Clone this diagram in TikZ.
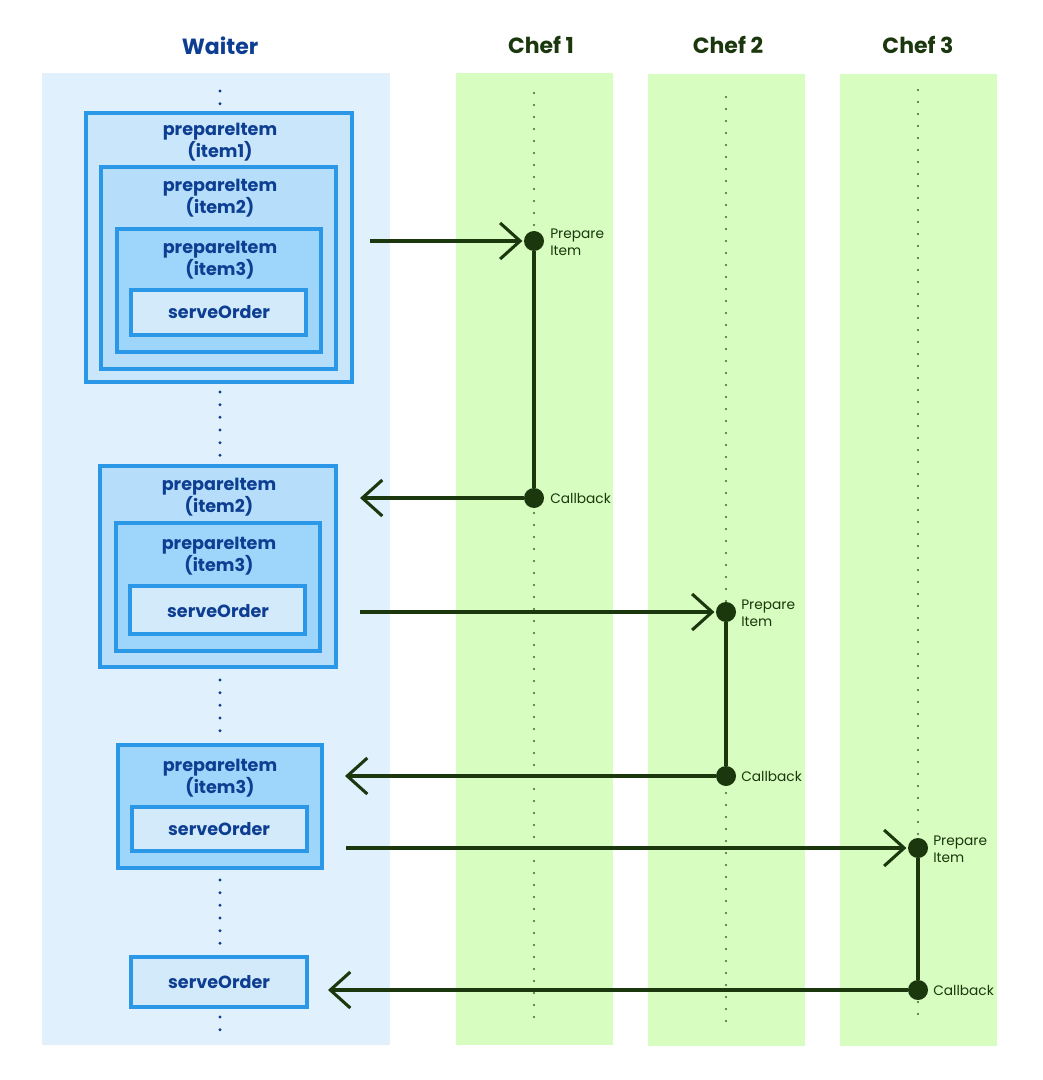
\documentclass[tikz,border=0pt]{standalone}
\usepackage{fontspec}
\setmainfont{Poppins}
\usepackage{tikz}
\usetikzlibrary{arrows.meta}

\definecolor{waiterbg}{HTML}{E0F0FC}
\definecolor{chefbg}{HTML}{D8FDC0}
\definecolor{boxline}{HTML}{2A98E6}
\definecolor{lvlone}{HTML}{C9E6FB}
\definecolor{lvltwo}{HTML}{B6DEFA}
\definecolor{lvlthree}{HTML}{9ED5FA}
\definecolor{servebg}{HTML}{D3EAFB}
\definecolor{waitertext}{HTML}{0D3E92}
\definecolor{cheftext}{HTML}{1B370D}

\begin{document}
\begin{tikzpicture}[
    x=0.75pt, y=-0.75pt,
    column/.style={draw=none, inner sep=0pt, minimum width=117.75pt, minimum height=729pt},
    title/.style={font=\bfseries\fontsize{16.5}{20}\selectfont},
    box/.style={draw=boxline, line width=2.3pt, inner sep=0pt},
    boxtext/.style={text=waitertext, font=\bfseries\fontsize{13.2}{16.5}\selectfont, align=center, inner sep=0pt},
    event/.style={circle, fill=cheftext, minimum size=15pt, inner sep=0pt},
    eventtext/.style={text=cheftext, font=\fontsize{10.3}{12.75}\selectfont, align=left, anchor=west, inner sep=0pt},
    waiterline/.style={draw=waitertext, line width=2.4pt, dash pattern=on 0pt off 9.5pt, line cap=round},
    chefline/.style={draw=cheftext!80, line width=1.7pt, dash pattern=on 0pt off 9pt, line cap=round},
    message/.style={draw=cheftext, line width=2.3pt, -{Straight Barb[length=15pt, width=27pt, line width=2.3pt]}},
]
    % columns
    \node[column, fill=waiterbg, minimum width=261pt] (waitercol) at (216,559) {};
    \node[column, fill=chefbg] (chefonecol) at (534.5,559) {};
    \node[column, fill=chefbg] (cheftwocol) at (726.5,560) {};
    \node[column, fill=chefbg] (chefthreecol) at (918.5,560) {};

    \node[title, text=waitertext] (waitertitle) at (220,46) {Waiter};
    \node[title, text=cheftext] (chefonetitle) at (541,45) {Chef 1};
    \node[title, text=cheftext] (cheftwotitle) at (728,45) {Chef 2};
    \node[title, text=cheftext] (chefthreetitle) at (918,45) {Chef 3};

    % waiter lifeline
    \coordinate (w0) at (220,91);
    \coordinate (w1) at (220,104);
    \coordinate (w2) at (220,392);
    \coordinate (w3) at (220,456);
    \coordinate (w4) at (220,680);
    \coordinate (w5) at (220,735);
    \coordinate (w6) at (220,880);
    \coordinate (w7) at (220,946);
    \coordinate (w8) at (220,1017);
    \coordinate (w9) at (220,1030);
    \draw[waiterline] (w0) -- (w1);
    \draw[waiterline] (w2) -- (w3);
    \draw[waiterline] (w4) -- (w5);
    \draw[waiterline] (w6) -- (w7);
    \draw[waiterline] (w8) -- (w9);

    % first call
    \node[box, fill=lvlone, minimum width=199.5pt, minimum height=201.75pt] (aone) at (219,247.5) {};
    \node[box, fill=lvltwo, minimum width=176.25pt, minimum height=151.5pt] (atwo) at (218.5,268) {};
    \node[box, fill=lvlthree, minimum width=153pt, minimum height=92.25pt] (athree) at (219,290.5) {};
    \node[box, fill=servebg, minimum width=131.25pt, minimum height=33.75pt] (aserve) at (218.5,312.5) {};
    \node[boxtext] (aonetext) at (220,142) {prepareItem\\(item1)};
    \node[boxtext] (atwotext) at (220,198) {prepareItem\\(item2)};
    \node[boxtext] (athreetext) at (220,260) {prepareItem\\(item3)};
    \node[boxtext] (aservetext) at (219,312) {serveOrder};

    % second call
    \node[box, fill=lvltwo, minimum width=177pt, minimum height=150.75pt] (btwo) at (218,566.5) {};
    \node[box, fill=lvlthree, minimum width=153pt, minimum height=96pt] (bthree) at (218,587) {};
    \node[box, fill=servebg, minimum width=131.25pt, minimum height=36pt] (bserve) at (217.5,610) {};
    \node[boxtext] (btwotext) at (219,497) {prepareItem\\(item2)};
    \node[boxtext] (bthreetext) at (219,556) {prepareItem\\(item3)};
    \node[boxtext] (bservetext) at (218,611) {serveOrder};

    % third call
    \node[box, fill=lvlthree, minimum width=153pt, minimum height=92.25pt] (cthree) at (220,806.5) {};
    \node[box, fill=servebg, minimum width=131.25pt, minimum height=33pt] (cserve) at (219.5,829) {};
    \node[boxtext] (cthreetext) at (220,778) {prepareItem\\(item3)};
    \node[boxtext] (cservetext) at (219,829) {serveOrder};

    % last
    \node[box, fill=servebg, minimum width=132pt, minimum height=37.5pt] (dserve) at (219,982) {};
    \node[boxtext] (dservetext) at (219,982) {serveOrder};

    % chef lifelines
    \coordinate (onetop) at (534,93);
    \coordinate (onebot) at (534,1020);
    \coordinate (twotop) at (726,97);
    \coordinate (twobot) at (726,1025);
    \coordinate (threetop) at (918,90);
    \coordinate (threebot) at (918,1015);
    \draw[chefline] (onetop) -- (onebot);
    \draw[chefline] (twotop) -- (twobot);
    \draw[chefline] (threetop) -- (threebot);

    \node[event] (prepone) at (534,241) {};
    \node[event] (backone) at (534,498) {};
    \node[event] (preptwo) at (726,612) {};
    \node[event] (backtwo) at (726,776) {};
    \node[event] (prepthree) at (918,848) {};
    \node[event] (backthree) at (918,990) {};
    \draw[cheftext, line width=2.6pt] (prepone) -- (backone);
    \draw[cheftext, line width=2.6pt] (preptwo) -- (backtwo);
    \draw[cheftext, line width=2.6pt] (prepthree) -- (backthree);

    \node[eventtext] (preponetext) at (550,242) {Prepare\\Item};
    \node[eventtext] (backonetext) at (550,498) {Callback};
    \node[eventtext] (preptwotext) at (741,613) {Prepare\\Item};
    \node[eventtext] (backtwotext) at (741,776) {Callback};
    \node[eventtext] (prepthreetext) at (933,849) {Prepare\\Item};
    \node[eventtext] (backthreetext) at (933,990) {Callback};

    % messages
    \coordinate (sendone) at (370,241);
    \coordinate (returnone) at (360,498);
    \coordinate (sendtwo) at (360,612);
    \coordinate (returntwo) at (345,776);
    \coordinate (sendthree) at (346,848);
    \coordinate (returnthree) at (328,990);
    \draw[message, shorten >=1pt] (sendone) -- (prepone);
    \draw[message] (backone) -- (returnone);
    \draw[message, shorten >=1pt] (sendtwo) -- (preptwo);
    \draw[message] (backtwo) -- (returntwo);
    \draw[message, shorten >=1pt] (sendthree) -- (prepthree);
    \draw[message] (backthree) -- (returnthree);

    \useasboundingbox (0,0) rectangle (1042,1080);
\end{tikzpicture}
\end{document}
